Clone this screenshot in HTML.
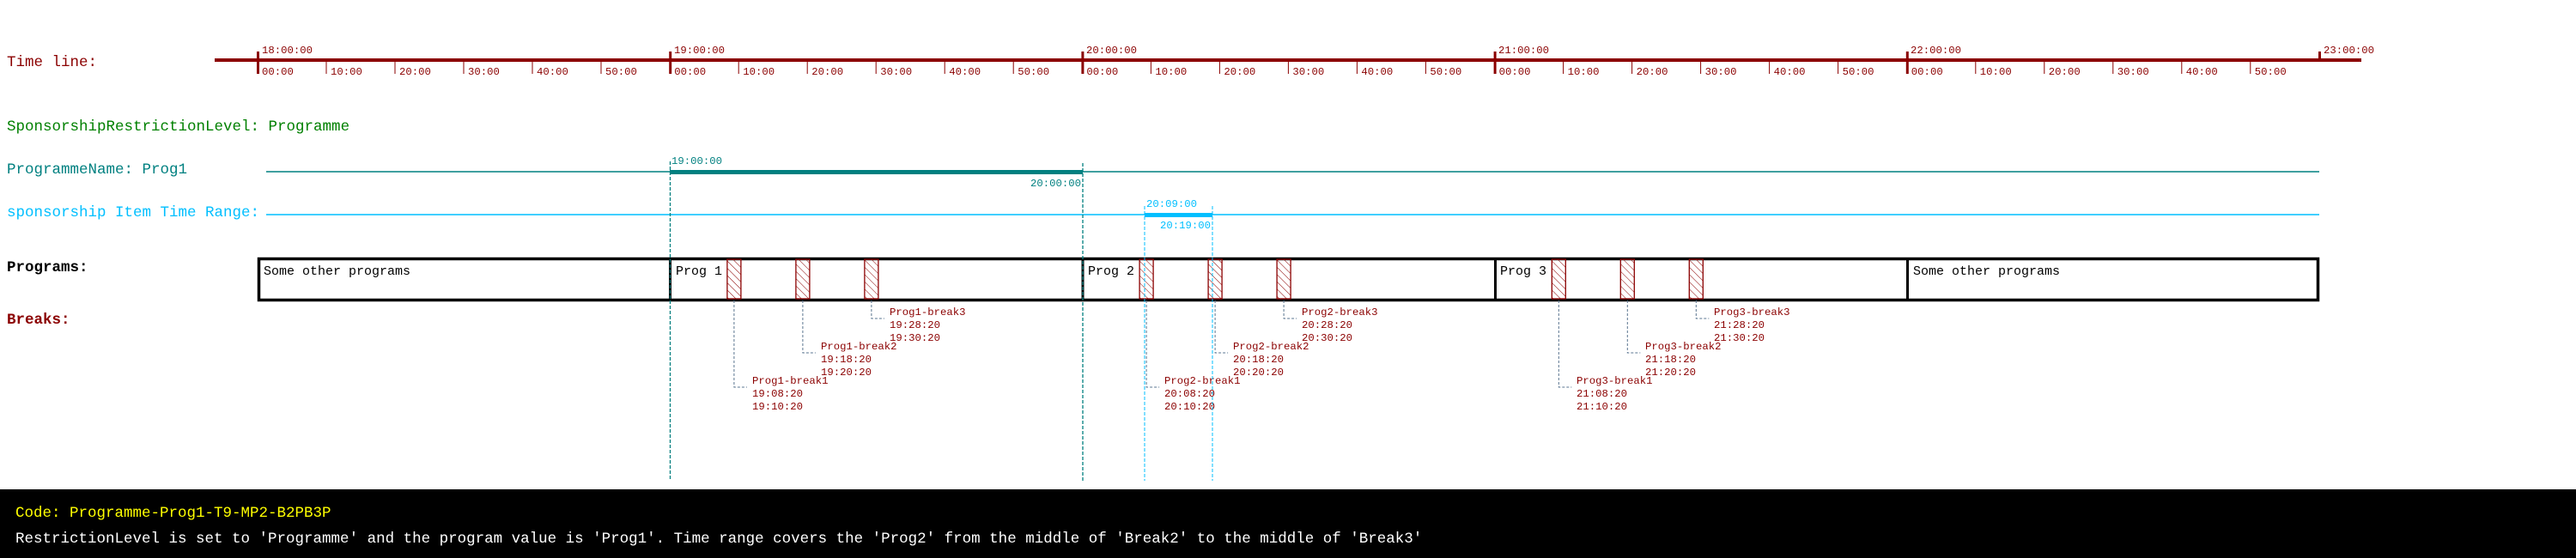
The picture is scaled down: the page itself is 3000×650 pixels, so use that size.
<!DOCTYPE html>
<html><head><meta charset="utf-8"><style>
html,body{margin:0;padding:0;background:#fff;}
svg{display:block;}
text{font-family:"Liberation Mono",monospace;}
</style></head><body>
<svg width="3000" height="650" viewBox="0 0 3000 650" xmlns="http://www.w3.org/2000/svg">
<defs>
<pattern id="h" patternUnits="userSpaceOnUse" width="6" height="6" patternTransform="rotate(-45)">
<line x1="0" y1="0" x2="0" y2="6" stroke="#8b0000" stroke-width="1"/>
</pattern>
<g id="hr" fill="#8b0000" font-size="12.3">
<line x1="0.5" y1="60" x2="0.5" y2="86" stroke="#8b0000" stroke-width="3"/>
<line x1="80" y1="70" x2="80" y2="86" stroke="#8b0000" stroke-width="1"/>
<line x1="160" y1="70" x2="160" y2="86" stroke="#8b0000" stroke-width="1"/>
<line x1="240" y1="70" x2="240" y2="86" stroke="#8b0000" stroke-width="1"/>
<line x1="320" y1="70" x2="320" y2="86" stroke="#8b0000" stroke-width="1"/>
<line x1="400" y1="70" x2="400" y2="86" stroke="#8b0000" stroke-width="1"/>
<text x="5" y="87">00:00</text><text x="85" y="87">10:00</text><text x="165" y="87">20:00</text>
<text x="245" y="87">30:00</text><text x="325" y="87">40:00</text><text x="405" y="87">50:00</text>
</g>
</defs>
<!-- Labels -->
<g font-size="17.5">
<text x="8" y="77" fill="#8b0000">Time line:</text>
<text x="8" y="152" fill="#008000">SponsorshipRestrictionLevel: Programme</text>
<text x="8" y="202" fill="#008080">ProgrammeName: Prog1</text>
<text x="8" y="252" fill="#00bfff">sponsorship Item Time Range:</text>
<text x="8" y="316" fill="#000" font-weight="bold">Programs:</text>
<text x="8" y="377" fill="#8b0000" font-weight="bold">Breaks:</text>
</g>
<!-- Timeline -->
<line x1="250" y1="70" x2="2750" y2="70" stroke="#8b0000" stroke-width="4"/>
<use href="#hr" x="300"/><use href="#hr" x="780.2"/><use href="#hr" x="1260.4"/><use href="#hr" x="1740.6"/><use href="#hr" x="2220.8"/>
<line x1="2701.5" y1="60" x2="2701.5" y2="70" stroke="#8b0000" stroke-width="3"/>
<g fill="#8b0000" font-size="12.3">
<text x="305" y="62">18:00:00</text><text x="785" y="62">19:00:00</text><text x="1265" y="62">20:00:00</text>
<text x="1745" y="62">21:00:00</text><text x="2225" y="62">22:00:00</text><text x="2706" y="62">23:00:00</text>
</g>
<!-- Programme name line -->
<line x1="310" y1="200" x2="2701" y2="200" stroke="#008080" stroke-width="1.5"/>
<line x1="780" y1="200.5" x2="1261" y2="200.5" stroke="#008080" stroke-width="5"/>
<g fill="#008080" font-size="12.3">
<text x="782" y="191">19:00:00</text>
<text x="1259" y="217" text-anchor="end">20:00:00</text>
</g>
<!-- Sponsorship line -->
<line x1="310" y1="250" x2="2701" y2="250" stroke="#00bfff" stroke-width="1.5"/>
<line x1="1333" y1="250.5" x2="1412" y2="250.5" stroke="#00bfff" stroke-width="5"/>
<g fill="#00bfff" font-size="12.3">
<text x="1335" y="241">20:09:00</text>
<text x="1410" y="266" text-anchor="end">20:19:00</text>
</g>
<!-- Program box -->
<rect x="301.5" y="301.5" width="2398" height="48" fill="none" stroke="#000" stroke-width="3.5"/>
<g stroke="#000" stroke-width="3"><line x1="780.5" y1="300" x2="780.5" y2="351"/><line x1="1261" y1="300" x2="1261" y2="351"/><line x1="1741.5" y1="300" x2="1741.5" y2="351"/><line x1="2221.5" y1="300" x2="2221.5" y2="351"/></g>
<g font-size="15" fill="#000">
<text x="307" y="320">Some other programs</text>
<text x="787" y="320">Prog 1</text>
<text x="1267" y="320">Prog 2</text>
<text x="1747" y="320">Prog 3</text>
<text x="2228" y="320">Some other programs</text>
</g>
<!-- Breaks -->
<g id="p1" transform="translate(780.2 0)">
<g fill="url(#h)" stroke="#8b0000" stroke-width="1.3">
<rect x="66.7" y="302" width="16" height="46"/><rect x="146.7" y="302" width="16" height="46"/><rect x="226.7" y="302" width="16" height="46"/>
</g>
<g fill="none" stroke="#5a7590" stroke-width="1" stroke-dasharray="3,2">
<polyline points="74.7,350 74.7,451 89.7,451"/><polyline points="154.7,350 154.7,411 169.7,411"/><polyline points="234.7,350 234.7,371 249.7,371"/>
</g>
</g>
<g transform="translate(1260.4 0)">
<g fill="url(#h)" stroke="#8b0000" stroke-width="1.3">
<rect x="66.7" y="302" width="16" height="46"/><rect x="146.7" y="302" width="16" height="46"/><rect x="226.7" y="302" width="16" height="46"/>
</g>
<g fill="none" stroke="#5a7590" stroke-width="1" stroke-dasharray="3,2">
<polyline points="74.7,350 74.7,451 89.7,451"/><polyline points="154.7,350 154.7,411 169.7,411"/><polyline points="234.7,350 234.7,371 249.7,371"/>
</g>
</g>
<g transform="translate(1740.6 0)">
<g fill="url(#h)" stroke="#8b0000" stroke-width="1.3">
<rect x="66.7" y="302" width="16" height="46"/><rect x="146.7" y="302" width="16" height="46"/><rect x="226.7" y="302" width="16" height="46"/>
</g>
<g fill="none" stroke="#5a7590" stroke-width="1" stroke-dasharray="3,2">
<polyline points="74.7,350 74.7,451 89.7,451"/><polyline points="154.7,350 154.7,411 169.7,411"/><polyline points="234.7,350 234.7,371 249.7,371"/>
</g>
</g>
<!-- Break labels -->
<g fill="#8b0000" font-size="12.3">
<text x="876" y="447">Prog1-break1</text><text x="876" y="462">19:08:20</text><text x="876" y="477">19:10:20</text>
<text x="956" y="407">Prog1-break2</text><text x="956" y="422">19:18:20</text><text x="956" y="437">19:20:20</text>
<text x="1036" y="367">Prog1-break3</text><text x="1036" y="382">19:28:20</text><text x="1036" y="397">19:30:20</text>
<text x="1356" y="447">Prog2-break1</text><text x="1356" y="462">20:08:20</text><text x="1356" y="477">20:10:20</text>
<text x="1436" y="407">Prog2-break2</text><text x="1436" y="422">20:18:20</text><text x="1436" y="437">20:20:20</text>
<text x="1516" y="367">Prog2-break3</text><text x="1516" y="382">20:28:20</text><text x="1516" y="397">20:30:20</text>
<text x="1836" y="447">Prog3-break1</text><text x="1836" y="462">21:08:20</text><text x="1836" y="477">21:10:20</text>
<text x="1916" y="407">Prog3-break2</text><text x="1916" y="422">21:18:20</text><text x="1916" y="437">21:20:20</text>
<text x="1996" y="367">Prog3-break3</text><text x="1996" y="382">21:28:20</text><text x="1996" y="397">21:30:20</text>
</g>
<!-- Dashed verticals -->
<g stroke="#008080" stroke-width="1.3" stroke-dasharray="4,2">
<line x1="780.5" y1="188" x2="780.5" y2="560"/><line x1="1261" y1="190" x2="1261" y2="560"/>
</g>
<g stroke="#00bfff" stroke-width="1" stroke-dasharray="4,2">
<line x1="1333" y1="240" x2="1333" y2="560"/><line x1="1412" y1="240" x2="1412" y2="560"/>
</g>
<!-- Footer -->
<rect x="0" y="570" width="3000" height="80" fill="#000"/>
<text x="18" y="602" fill="#ffff00" font-size="17.5">Code: Programme-Prog1-T9-MP2-B2PB3P</text>
<text x="18" y="632" fill="#fff" font-size="17.5">RestrictionLevel is set to 'Programme' and the program value is 'Prog1'. Time range covers the 'Prog2' from the middle of 'Break2' to the middle of 'Break3'</text>
</svg>
</body></html>
